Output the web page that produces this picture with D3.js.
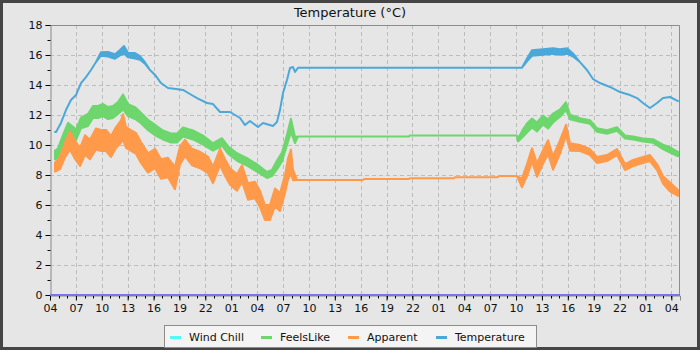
<!DOCTYPE html>
<html>
<head>
<meta charset="utf-8">
<script src="https://cdn.jsdelivr.net/npm/d3@7"></script>
<style>
  body { margin: 0; background: #e6e6e6; }
  svg { display: block; font-family: "DejaVu Sans", sans-serif; }
</style>
</head>
<body>
<svg id="chart"></svg>
<script>
const seriesNames = ["Wind Chill", "FeelsLike", "Apparent", "Temperature"];
const seriesColors = ["#55f7f7", "#6dd66d", "#ff9a4b", "#4ba8d9"];
const zeroLineColor = "#7676ea";
const startTime = new Date(2024, 0, 1, 4, 0);
const spanHours = 73;
const yTicks = [0, 2, 4, 6, 8, 10, 12, 14, 16, 18];

// [hours after 04:00 day 1, value, half width of the noise band]
const windChill = [[0, 0, 0], [73, 0, 0]];
const temperature = [
  [0.58,10.87,0],[0.7,10.87,0],[1.27,11.47,0],[1.85,12.33,0],[2.43,13.0,0],[3.01,13.33,0],
  [3.59,14.13,0],[4.17,14.53,0],[4.75,15.0,0],[5.33,15.53,0],[5.91,16.07,0.12],[6.72,16.05,0.15],
  [7.53,15.9,0.15],[8.11,16.15,0.18],[8.57,16.35,0.25],[9.04,16.0,0.15],[9.85,15.95,0.18],
  [10.43,15.8,0.12],[11.0,15.47,0.05],[11.59,15.0,0],[12.17,14.67,0],[12.86,14.13,0],[13.67,13.8,0],
  [14.6,13.73,0],[15.41,13.67,0],[16.22,13.4,0],[17.03,13.13,0],[18.19,12.8,0],[18.89,12.73,0],
  [19.7,12.2,0],[20.86,12.2,0],[22.02,11.8,0],[22.6,11.33,0],[23.17,11.6,0],[24.1,11.2,0],
  [24.68,11.47,0],[25.84,11.27,0],[26.3,11.53,0],[26.65,12.33,0],[27.0,13.47,0],[27.46,14.33,0],
  [27.81,15.13,0],[28.16,15.2,0],[28.39,14.87,0],[28.74,15.15,0],[54.11,15.15,0],[54.69,15.15,0],
  [55.27,15.67,0.1],[55.85,16.13,0.18],[57.13,16.2,0.18],[58.29,16.27,0.18],[59.1,16.2,0.18],
  [59.91,16.27,0.18],[60.6,16.0,0.1],[61.41,15.53,0],[62.22,15.0,0],[62.92,14.4,0],[63.73,14.13,0],
  [64.89,13.87,0],[66.05,13.53,0],[67.21,13.33,0],[68.02,13.13,0],[68.71,12.8,0],[69.52,12.47,0],
  [70.34,12.8,0],[71.03,13.13,0],[71.84,13.2,0],[72.77,12.93,0]
];
const feelsLike = [
  [0.58,9.33,0.3],[0.93,9.47,0.3],[1.51,10.33,0.35],[2.09,11.13,0.35],[2.67,10.87,0.35],[3.01,10.67,0.35],
  [3.59,11.47,0.35],[4.4,11.67,0.4],[4.98,12.2,0.4],[5.56,12.2,0.4],[6.14,12.33,0.4],[6.72,12.13,0.4],
  [7.3,12.2,0.4],[7.88,12.47,0.4],[8.46,12.87,0.5],[9.04,12.33,0.4],[9.85,12.13,0.4],[10.54,11.8,0.35],
  [11.36,11.33,0.35],[12.17,11.0,0.35],[13.09,10.67,0.3],[14.02,10.47,0.3],[14.72,10.47,0.3],
  [15.41,10.87,0.3],[16.57,10.67,0.3],[17.73,10.33,0.3],[18.89,9.87,0.25],[19.93,10.2,0.25],
  [20.63,9.67,0.25],[21.67,9.2,0.25],[22.83,8.87,0.25],[23.99,8.47,0.25],[25.14,8.0,0.2],[25.72,8.13,0.2],
  [26.3,8.67,0.3],[26.88,9.2,0.3],[27.46,10.33,0.35],[27.92,11.3,0.45],[28.39,10.33,0.2],
  [28.74,10.57,0],[41.6,10.57,0],[41.7,10.63,0],[54.11,10.63,0],[54.23,10.33,0.1],[54.81,10.8,0.25],
  [55.27,11.13,0.3],[55.85,11.47,0.3],[56.43,11.2,0.3],[57.13,11.67,0.3],[57.71,11.4,0.3],
  [58.29,11.8,0.3],[59.1,12.13,0.25],[59.79,12.6,0.25],[60.26,11.87,0.15],[61.41,11.67,0.12],
  [62.57,11.53,0.12],[63.38,11.0,0.12],[64.54,10.87,0.12],[65.7,11.07,0.12],[66.63,10.53,0.1],
  [67.56,10.47,0.1],[68.71,10.33,0.1],[69.87,10.27,0.12],[71.03,9.87,0.15],[71.84,9.67,0.18],
  [72.77,9.4,0.15]
];
const apparent = [
  [0.58,8.53,0.3],[1.16,8.8,0.4],[1.74,9.67,0.5],[2.32,10.3,0.6],[2.9,9.67,0.6],[3.48,9.2,0.6],
  [4.06,10.0,0.65],[4.63,9.7,0.65],[5.33,10.4,0.7],[5.91,10.3,0.7],[6.49,10.3,0.7],[7.07,9.9,0.7],
  [7.65,10.5,0.7],[8.23,10.9,0.75],[8.46,11.2,0.85],[8.81,10.5,0.7],[9.39,10.3,0.7],[9.97,10.1,0.7],
  [10.54,9.5,0.7],[11.36,8.8,0.65],[12.17,9.1,0.65],[12.86,8.4,0.65],[13.67,8.5,0.65],[14.48,7.8,0.75],
  [15.06,9.3,0.6],[15.64,9.8,0.55],[16.45,9.2,0.55],[17.38,9.0,0.55],[18.31,8.67,0.55],[18.89,8.0,0.55],
  [19.7,9.2,0.55],[20.28,8.5,0.55],[20.86,7.9,0.55],[21.67,7.5,0.55],[22.25,8.1,0.55],[22.94,6.9,0.55],
  [23.75,7.0,0.55],[24.33,6.4,0.55],[24.91,5.5,0.5],[25.49,5.5,0.5],[26.07,6.5,0.6],[26.65,6.2,0.6],
  [27.23,7.4,0.6],[27.58,8.4,0.7],[27.92,8.9,0.8],[28.16,8.0,0.35],[28.62,7.67,0],[36.27,7.67,0],
  [36.4,7.73,0],[41.6,7.73,0],[41.7,7.78,0],[46.81,7.78,0],[46.9,7.85,0],[51.9,7.85,0],[52.0,7.93,0],
  [54.11,7.93,0],[54.69,7.47,0.3],[55.27,8.33,0.4],[55.85,9.33,0.45],[56.43,8.33,0.45],
  [57.13,9.2,0.45],[57.71,9.87,0.45],[58.29,8.8,0.45],[59.1,9.87,0.45],[59.79,11.0,0.35],
  [60.26,9.87,0.25],[61.41,9.8,0.2],[62.57,9.53,0.2],[63.38,9.0,0.2],[64.54,9.13,0.2],
  [65.7,9.53,0.2],[66.63,8.53,0.2],[67.56,8.8,0.2],[68.71,9.0,0.2],[69.52,9.13,0.2],
  [70.34,8.53,0.2],[71.03,7.67,0.25],[71.84,7.2,0.3],[72.77,6.8,0.2]
];

const W = 700, H = 350;
const plot = { left: 50, right: 680, top: 25, bottom: 295 };
const hourMs = 3600 * 1000;
const toDate = (h) => new Date(startTime.getTime() + h * hourMs);
const endTime = toDate(spanHours);

const svg = d3.select("#chart").attr("width", W).attr("height", H);

svg.append("rect")
  .attr("x", 1.5).attr("y", 1.5).attr("width", W - 3).attr("height", H - 3)
  .attr("fill", "#e6e6e6").attr("stroke", "#454545").attr("stroke-width", 3);

const x = d3.scaleTime().domain([startTime, endTime]).range([plot.left, plot.right]);
const y = d3.scaleLinear().domain([0, 18]).range([plot.bottom, plot.top]);

const majorTimes = d3.timeHour.range(startTime, endTime, 3);
const minorTimes = d3.timeHour.range(startTime, endTime, 1);

// grid
const grid = svg.append("g").attr("stroke", "#bdbdbd").attr("stroke-dasharray", "4,3");
grid.selectAll(".gx").data(majorTimes.slice(1)).enter().append("line")
  .attr("x1", (d) => Math.round(x(d)) + 0.5).attr("x2", (d) => Math.round(x(d)) + 0.5)
  .attr("y1", plot.top).attr("y2", plot.bottom);
grid.selectAll(".gy").data(yTicks.slice(1)).enter().append("line")
  .attr("x1", plot.left).attr("x2", plot.right)
  .attr("y1", (d) => Math.round(y(d)) + 0.5).attr("y2", (d) => Math.round(y(d)) + 0.5);

// plot frame (top and right)
svg.append("path")
  .attr("d", `M${plot.left},${plot.top + 0.5}H${plot.right - 0.5}V${plot.bottom}`)
  .attr("fill", "none").attr("stroke", "#8c8c8c");

// y axis
const yAxis = svg.append("g")
  .attr("transform", `translate(${plot.left + 0.5},0)`)
  .call(d3.axisLeft(y).tickValues(yTicks).tickSize(5).tickPadding(3));
yAxis.append("g").selectAll("line").data(d3.range(1, 18, 2)).enter().append("line")
  .attr("x1", -3).attr("x2", 0)
  .attr("y1", (d) => Math.round(y(d)) + 0.5).attr("y2", (d) => Math.round(y(d)) + 0.5)
  .attr("stroke", "#000");

// x axis
const xAxis = svg.append("g")
  .attr("transform", `translate(0,${plot.bottom + 0.5})`)
  .call(d3.axisBottom(x).tickValues(majorTimes).tickFormat(d3.timeFormat("%H")).tickSize(5).tickPadding(4));
xAxis.append("g").selectAll("line").data(minorTimes).enter().append("line")
  .attr("x1", (d) => Math.round(x(d)) + 0.5).attr("x2", (d) => Math.round(x(d)) + 0.5)
  .attr("y1", 0).attr("y2", 3).attr("stroke", "#000");

[yAxis, xAxis].forEach((a) => {
  a.selectAll("text").attr("font-size", "11px").attr("font-family", "DejaVu Sans").attr("fill", "#111");
  a.select(".domain").attr("stroke", "#888");
});

// series bands
const band = d3.area()
  .x((d) => x(toDate(d[0])))
  .y0((d) => y(d[1] - d[2]))
  .y1((d) => y(d[1] + d[2]));

const seriesData = [feelsLike, apparent, temperature];
const seriesIdx = [1, 2, 3];
svg.append("path")
  .datum(windChill)
  .attr("d", d3.line().x((d) => x(toDate(d[0]))).y((d) => y(d[1])))
  .attr("fill", "none").attr("stroke", zeroLineColor).attr("stroke-width", 2);

seriesData.forEach((data, i) => {
  const c = seriesColors[seriesIdx[i]];
  svg.append("path")
    .datum(data)
    .attr("d", band)
    .attr("fill", c)
    .attr("stroke", c)
    .attr("stroke-width", 2)
    .attr("stroke-linejoin", "round");
});

// title
svg.append("text")
  .attr("x", 350).attr("y", 17)
  .attr("text-anchor", "middle")
  .attr("font-size", "13px")
  .attr("fill", "#111")
  .text("Temperature (°C)");

// legend
const legend = svg.append("g");
legend.append("rect")
  .attr("x", 164.5).attr("y", 325.5).attr("width", 372).attr("height", 22)
  .attr("fill", "#f4f4f4").attr("stroke", "#8c8c8c");
const legendX = [170, 261, 348, 436];
seriesNames.forEach((name, i) => {
  legend.append("rect")
    .attr("x", legendX[i]).attr("y", 336).attr("width", 11).attr("height", 3)
    .attr("fill", seriesColors[i]);
  legend.append("text")
    .attr("x", legendX[i] + 19).attr("y", 341)
    .attr("font-size", "11px")
    .attr("fill", "#111")
    .text(name);
});
</script>
</body>
</html>
